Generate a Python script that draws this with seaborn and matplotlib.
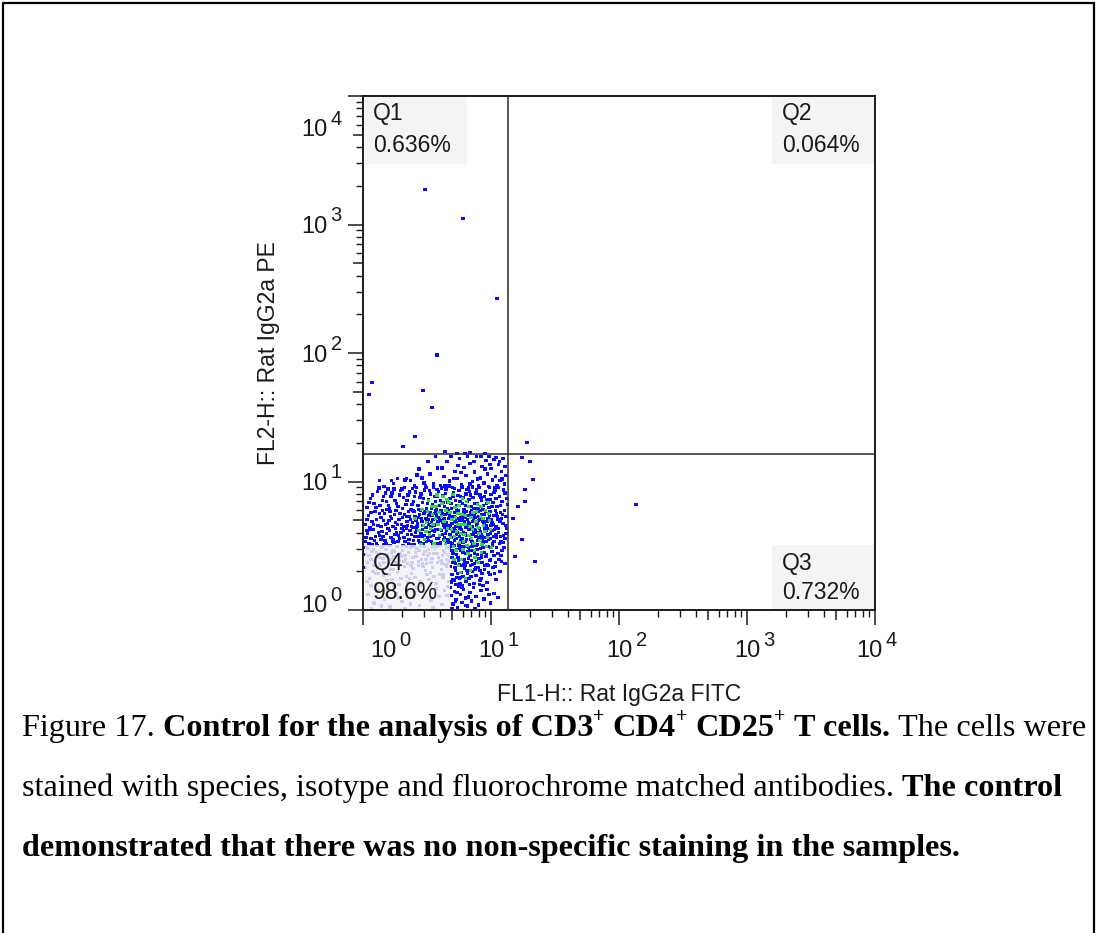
import matplotlib
matplotlib.use("Agg")
import matplotlib.pyplot as plt
import matplotlib.transforms as mtransforms
from matplotlib.lines import Line2D
from matplotlib.patches import Rectangle
from matplotlib.ticker import FixedLocator, FixedFormatter
import numpy as np
import pandas as pd
import seaborn as sns

# ---------------- data (FlowJo channel units, 256 channels per decade) ----------------
CH_PER_DECADE = 256

# low-density events (drawn blue): (FL1-H channel, FL2-H channel)
blue_events_ch = [
    # upper band of the main population
    (42,246),(61,252),(78,241),(95,258),(103,247),(118,263),(126,244),(134,271),(141,252),(149,283),
    (155,248),(162,266),(168,295),(173,257),(179,244),(184,276),(188,262),(193,301),(197,249),(202,284),
    (206,268),(211,243),(214,292),(219,256),(223,275),(227,305),(231,247),(235,263),(238,286),(242,253),
    (246,297),(249,271),(253,244),(256,282),(259,259),(262,300),(265,266),(268,248),(271,289),(274,258),
    (277,276),(280,302),(283,251),(286,268),(112,281),(87,262),(57,258),(69,262),(130,296),(145,306),
    (158,283),(176,306),(190,287),(209,306),(222,296),(236,305),(244,281),(252,305),(266,303),(273,296),
    (148,240),(122,253),(99,242),(84,259),(50,241),(33,258),(108,269),(164,247),(181,262),(196,274),
    (214,251),(229,261),(254,290),(263,243),(278,261),(284,285),
    # middle band
    (8,205),(15,222),(22,213),(29,236),(34,208),(41,227),(47,216),(53,203),(58,233),(64,219),
    (70,207),(75,238),(81,224),(86,211),(90,229),(96,201),(101,217),(105,235),(110,208),(114,225),
    (119,214),(123,239),(127,202),(131,221),(135,231),(139,210),(143,226),(147,204),(151,236),(155,218),
    (159,228),(163,207),(166,240),(170,215),(174,223),(177,203),(181,233),(185,219),(188,209),(192,238),
    (195,226),(199,212),(202,201),(206,231),(209,217),(213,236),(216,206),(220,224),(223,213),(227,240),
    (230,202),(234,229),(237,218),(241,209),(245,235),(248,221),(252,204),(256,230),(260,214),(264,238),
    (268,207),(273,226),(278,216),(284,233),(289,210),
    (12,214),(19,229),(26,204),(32,243),(39,219),(45,233),(51,209),(56,226),(62,241),(67,213),
    (73,229),(79,203),(83,244),(88,219),(93,235),(98,210),(103,226),(107,244),(112,200),(116,231),
    (121,222),(125,248),(129,212),(133,238),(137,203),(141,245),(145,217),(149,227),(153,208),(157,243),
    (161,214),(165,232),(169,202),(172,247),(176,212),(180,226),(183,242),(187,201),(190,228),(194,216),
    (198,245),(201,224),(205,209),(208,240),(212,220),(215,229),(219,245),(222,203),(226,233),(229,212),
    (233,244),(236,224),(240,201),(243,227),(247,213),(251,246),(254,221),(258,207),(262,234),(266,222),
    (270,244),(275,209),(281,239),(287,222),
    (5,171),(11,189),(18,177),(24,196),(30,168),(36,184),(43,193),(49,173),(55,187),(60,166),
    (66,198),(72,180),(77,170),(83,191),(88,176),(93,186),(97,167),(102,196),(106,179),(109,172),
    (113,190),(117,183),(120,169),(124,197),(128,176),(132,188),(136,166),(140,181),(144,193),(148,171),
    (152,185),(156,199),(160,175),(164,190),(167,168),(171,182),(175,195),(178,173),(182,187),(186,166),
    (190,198),(193,179),(197,191),(200,170),(204,184),(207,196),(211,175),(214,188),(218,167),(221,181),
    (225,194),(228,172),(232,186),(235,199),(239,177),(243,190),(246,169),(250,183),(254,196),(258,174),
    (262,188),(266,167),(270,180),(275,194),(280,172),(286,186),(14,165),(27,181),(39,199),(52,178),
    (63,190),(79,184),(91,197),(99,174),(115,199),(126,165),(138,189),(150,177),(161,168),(173,188),
    (184,177),(195,165),(209,180),(222,189),(231,178),(244,177),(256,168),(267,193),(277,182),(283,199),
    (45,170),(69,171),(85,166),(104,187),(130,181),(146,198),(169,193),(188,183),(203,176),(216,194),
    (8,181),(21,170),(33,192),(41,178),(47,200),(57,182),(65,174),(74,193),(81,167),(87,187),
    (95,180),(100,198),(108,166),(111,185),(118,176),(122,192),(126,183),(134,195),(137,174),(142,168),
    (147,189),(154,178),(158,192),(162,183),(166,174),(170,199),(174,168),(177,186),(183,194),(187,175),
    (191,169),(196,185),(199,178),(202,194),(206,168),(210,188),(213,172),(217,199),(220,176),(224,185),
    (227,168),(231,196),(234,180),(238,190),(242,171),(245,196),(249,176),(253,188),(257,181),(261,170),
    (265,199),(269,187),(274,176),(279,190),(285,168),(16,194),(36,167),(54,196),(89,169),(131,170),
    (4,137),(9,152),(16,143),(21,161),(27,133),(33,148),(38,157),(44,139),(50,163),(56,145),
    (62,134),(67,155),(73,142),(78,162),(84,136),(89,150),(94,158),(98,131),(103,146),(107,160),
    (111,139),(116,153),(120,133),(125,164),(129,144),(133,155),(137,137),(141,149),(145,161),(149,132),
    (153,147),(157,158),(161,140),(165,152),(168,134),(172,163),(176,145),(180,156),(183,138),(187,150),
    (191,131),(194,162),(198,143),(201,154),(205,136),(208,149),(212,160),(215,141),(219,133),(222,157),
    (226,146),(229,138),(233,163),(236,151),(240,134),(244,145),(247,159),(251,140),(255,152),(259,132),
    (263,161),(267,144),(271,155),(276,137),(281,149),(287,163),(12,132),(25,147),(36,140),(47,153),
    (59,137),(71,148),(81,159),(92,140),(100,164),(118,147),(127,136),(139,158),(151,143),(163,164),
    (174,135),(185,158),(196,139),(206,164),(217,150),(228,155),(238,141),(249,163),(261,147),(273,133),
    (284,142),(8,158),(19,130),(42,131),(65,163),
    (6,145),(14,160),(23,138),(31,155),(40,146),(46,133),(53,158),(60,141),(64,150),(70,136),
    (76,154),(82,145),(87,163),(91,133),(97,151),(101,139),(105,155),(110,147),(114,134),(119,160),
    (123,149),(127,157),(131,138),(135,146),(139,131),(143,156),(147,142),(151,160),(155,135),(159,150),
    (163,145),(167,158),(170,140),(174,151),(178,133),(182,163),(186,142),(189,155),(193,147),(197,160),
    (200,134),(204,152),(207,141),(211,148),(214,164),(218,137),(221,150),(225,160),(228,131),(232,144),
    (235,156),(239,147),(243,162),(246,136),(250,150),(254,143),(258,158),(262,137),(266,151),(270,162),
    (275,146),(280,134),(286,153),
    # low-FL2 tail right of the Q4 label
    (176,127),(180,112),(183,97),(187,121),(190,105),(193,91),(196,118),(199,126),(202,101),(205,113),
    (208,94),(211,124),(214,108),(217,99),(220,119),(223,92),(226,129),(229,110),(232,103),(235,122),
    (238,95),(242,115),(246,106),(250,127),(254,98),(258,117),(262,109),(267,124),(272,101),(278,119),
    (284,93),(178,104),(185,92),(192,129),(201,90),(209,116),(218,127),(227,96),(237,111),(248,91),
    (256,125),(265,94),(276,108),(181,119),(196,100),
    (177,118),(179,95),(182,128),(184,84),(187,110),(189,72),(191,99),(194,122),(197,88),(200,115),
    (203,96),(206,126),(208,79),(211,102),(214,118),(216,67),(219,91),(223,112),(225,84),(228,121),
    (231,95),(234,78),(237,104),(240,124),(244,89),(247,110),(251,75),(255,101),(259,128),(264,86),
    (270,113),(277,97),(282,125),(180,60),(198,44),(215,34),(233,50),(185,17),(206,9),(193,62),
    (175,86),(178,71),(182,58),(185,79),(188,64),(191,88),(194,53),(197,75),(200,66),(203,83),
    (206,57),(209,72),(212,62),(215,88),(219,77),(222,52),(226,68),(230,84),(234,59),(238,73),
    (243,81),(248,55),(254,70),(260,85),(266,61),(274,76),(177,55),(186,50),(195,65),(204,89),
    (213,51),(224,80),(236,63),(250,88),(263,72),
    (175,44),(177,28),(180,12),(183,37),(186,21),(189,5),(192,46),(195,30),(198,15),(201,40),
    (205,24),(209,8),(213,35),(217,18),(221,45),(226,27),(231,10),(236,38),(242,22),(248,41),
    (255,14),(262,33),(270,25),(178,3),(188,34),(199,49),(211,26),(224,3),(240,48),(252,30),
    # events under the Q4 label
    (6,125),(12,108),(18,117),(24,96),(29,128),(35,112),(40,102),(46,121),(51,93),(57,115),
    (62,106),(68,127),(73,99),(79,118),(84,109),(89,92),(95,124),(100,104),(105,115),(111,97),
    (116,129),(121,110),(126,101),(131,120),(136,94),(141,113),(146,126),(151,105),(156,98),(161,119),
    (166,91),(170,111),(173,123),(9,95),(21,121),(33,92),(44,107),(55,128),(65,94),(76,106),
    (87,126),(98,95),(108,122),(119,93),(129,109),(139,125),(149,94),(159,108),(168,100),(15,131),
    (38,126),(60,119),(82,96),(103,130),(124,117),
    (4,110),(10,122),(16,101),(22,88),(27,115),(32,104),(37,124),(42,95),(48,111),(53,129),
    (58,100),(63,117),(69,90),(74,112),(80,128),(85,101),(91,115),(96,88),(101,127),(106,106),
    (112,118),(117,100),(122,126),(127,92),(133,112),(138,103),(143,121),(148,112),(154,129),(158,92),
    (163,114),(167,124),(171,97),(25,72),(61,80),(93,63),(135,75),(160,70),
    (5,84),(13,63),(20,77),(27,51),(34,88),(41,69),(48,58),(55,81),(62,47),(69,74),
    (76,62),(83,86),(90,54),(97,72),(104,65),(111,89),(118,49),(125,78),(132,60),(139,85),
    (146,53),(153,71),(160,64),(167,87),(172,56),(16,48),(30,72),(45,85),(58,61),(72,50),
    (87,67),(100,83),(114,57),(128,70),(142,66),(157,80),(169,46),(8,57),(52,70),(120,86),
    (10,30),(22,14),(31,38),(43,22),(54,6),(66,33),(78,17),(89,41),(101,26),(113,9),
    (124,36),(136,20),(147,42),(158,11),(168,29),(17,3),(49,40),(84,2),(108,44),(140,4),
    (163,39),(37,8),(71,25),(95,12),(152,27),
    # rare events outside the main population
    (124,838),(200,780),(268,620),(148,508),(120,438),(138,404),(18,454),(12,430),(80,326),(104,346),
    (328,334),(318,304),(334,296),(340,260),(324,240),(324,216),(310,206),(300,182),(318,140),(304,106),
    (344,96),(546,210),(164,316),(188,312),(204,312),(214,314),(244,312),
]

# high-density events (drawn green)
green_events_ch = [
    (104,182),(112,158),(118,201),(123,141),(127,175),(131,219),(135,162),(139,190),(142,133),(146,207),
    (150,171),(153,149),(157,186),(160,226),(163,138),(166,198),(169,163),(172,214),(175,145),(178,180),
    (181,127),(184,205),(187,156),(190,192),(193,135),(196,171),(199,222),(202,150),(205,188),(208,128),
    (211,206),(214,166),(217,142),(220,194),(223,118),(226,177),(229,211),(232,153),(235,186),(238,131),
    (241,168),(245,199),(249,145),(253,178),(257,124),(116,130),(129,196),(144,121),(158,213),(171,108),
    (186,118),(197,101),(210,113),(224,104),(237,115),(148,229),(180,230),(250,215),(191,89),(215,79),
    (121,168),(133,151),(138,206),(145,182),(152,194),(155,160),(162,176),(165,131),(168,221),(174,195),
    (177,161),(183,146),(185,184),(189,170),(192,209),(195,152),(198,190),(201,137),(204,171),(207,216),
    (212,149),(216,184),(219,160),(222,132),(227,196),(230,165),(234,138),(236,207),(240,182),(244,157),
    (247,126),(251,192),(255,160),(200,120),(182,100),(230,95),(205,62),(195,74),(140,170),(126,157),
]

gate_fl1_ch = 290
gate_fl2_ch = 310
quadrant_names = ["Q1", "Q2", "Q3", "Q4"]
quadrant_pcts = ["0.636%", "0.064%", "0.732%", "98.6%"]
decades = [0, 1, 2, 3, 4]
x_label = "FL1-H:: Rat IgG2a FITC"
y_label = "FL2-H:: Rat IgG2a PE"

# caption runs: (text, weight, superscript, space_before)
caption_lines = [
    [("Figure 17.", "normal", False, False),
     ("Control for the analysis of CD3", "bold", False, True),
     ("+", "bold", True, False),
     ("CD4", "bold", False, True),
     ("+", "bold", True, False),
     ("CD25", "bold", False, True),
     ("+", "bold", True, False),
     ("T cells.", "bold", False, True),
     ("The cells were", "normal", False, True)],
    [("stained with species, isotype and fluorochrome matched antibodies.", "normal", False, False),
     ("The control", "bold", False, True)],
    [("demonstrated that there was no non-specific staining in the samples.", "bold", False, False)],
]

# ---------------- figure ----------------
sns.set_style("white")
plt.rcParams["font.family"] = ["Liberation Sans", "DejaVu Sans"]
SERIF = ["Liberation Serif", "DejaVu Serif"]
INK = "#1a1a1a"

W, H = 1096, 933
DPI = 100
fig = plt.figure(figsize=(W / DPI, H / DPI), dpi=DPI)
fig.patch.set_facecolor("white")
ax = fig.add_axes([363 / W, 1 - 610 / H, 512 / W, 514 / H])


def ch2val(ch):
    return 10 ** (np.asarray(ch, dtype=float) / CH_PER_DECADE)


blue = np.array(blue_events_ch)
green = np.array(green_events_ch)
df = pd.DataFrame({
    "FL1-H": np.concatenate([ch2val(blue[:, 0]), ch2val(green[:, 0])]),
    "FL2-H": np.concatenate([ch2val(blue[:, 1]), ch2val(green[:, 1])]),
    "density": ["low"] * len(blue) + ["high"] * len(green),
})

ax.set_xscale("log")
ax.set_yscale("log")
sns.scatterplot(data=df, x="FL1-H", y="FL2-H", hue="density",
                palette={"low": "#0a0aff", "high": "#2ee02e"},
                marker="s", s=5, linewidth=0, edgecolor="none",
                legend=False, ax=ax, zorder=2)
ax.set_xlim(ch2val(0), ch2val(4 * CH_PER_DECADE))
ax.set_ylim(ch2val(0), ch2val(4 * CH_PER_DECADE))

# quadrant gate
ax.axvline(ch2val(gate_fl1_ch), color="#2a2a2a", lw=1.1, zorder=3)
ax.axhline(ch2val(gate_fl2_ch), color="#2a2a2a", lw=1.1, zorder=3)

# quadrant label boxes (axes fraction) and texts
boxes = [(0.004, 0.868, 0.203, 0.998), (0.799, 0.868, 0.998, 0.998),
         (0.799, 0.002, 0.998, 0.126), (0.004, 0.002, 0.170, 0.126)]
text_xy = [(0.0195, 0.965, 0.903), (0.818, 0.965, 0.903),
           (0.818, 0.0914, 0.035), (0.0195, 0.0914, 0.035)]
for (x0, y0, x1, y1), (tx, ty1, ty2), name, pct in zip(boxes, text_xy, quadrant_names, quadrant_pcts):
    ax.add_patch(Rectangle((x0, y0), x1 - x0, y1 - y0, transform=ax.transAxes,
                           facecolor="#f3f3f3", alpha=0.84, edgecolor="none", zorder=4))
    ax.text(tx, ty1, name, transform=ax.transAxes, ha="left", va="center",
            fontsize=16.5, color=INK, zorder=5)
    ax.text(tx, ty2, pct, transform=ax.transAxes, ha="left", va="center",
            fontsize=16.5, color=INK, zorder=5)

# ticks
major_locs, major_labels, is_decade = [], [], []
for d in decades:
    major_locs.append(10.0 ** d); major_labels.append("10"); is_decade.append(True)
    if d < decades[-1]:
        major_locs.append(5 * 10.0 ** d); major_labels.append(""); is_decade.append(False)
minor_locs = [m * 10.0 ** d for d in decades[:-1] for m in (2, 3, 4, 6, 7, 8, 9)]

for axis in (ax.xaxis, ax.yaxis):
    axis.set_major_locator(FixedLocator(major_locs))
    axis.set_major_formatter(FixedFormatter(major_labels))
    axis.set_minor_locator(FixedLocator(minor_locs))

ax.tick_params(which="major", direction="out", length=10.8, width=1.1, color=INK,
               labelsize=17, labelcolor=INK, bottom=True, left=True)
ax.tick_params(which="minor", direction="out", length=5, width=1.0, color=INK,
               bottom=True, left=True)
ax.tick_params(axis="x", which="major", pad=11)
ax.tick_params(axis="y", which="major", pad=15)

for axis in (ax.xaxis, ax.yaxis):
    for tick, dec in zip(axis.get_major_ticks(), is_decade):
        if not dec:
            tick.tick1line.set_markersize(7.5)

for s in ax.spines.values():
    s.set_color(INK)
    s.set_linewidth(1.4)


def shift(txt, dx_px, dy_px):
    txt.set_transform(txt.get_transform() +
                      mtransforms.ScaledTranslation(dx_px / DPI, dy_px / DPI, fig.dpi_scale_trans))


xlabels = [t for t, dec in zip(ax.get_xticklabels(), is_decade) if dec]
ylabels = [t for t, dec in zip(ax.get_yticklabels(), is_decade) if dec]
shift(xlabels[0], 20, 0)
shift(xlabels[-1], -6, 0)
shift(ylabels[0], 0, 6)
shift(ylabels[-1], 0, -32)

for labs in (xlabels, ylabels):
    for t, d in zip(labs, decades):
        ax.annotate(str(d), xy=(1.0, 0.76), xycoords=t, xytext=(2.5, 0),
                    textcoords="offset points", ha="left", va="baseline",
                    fontsize=14.5, color=INK, annotation_clip=False)

ax.set_xlabel(x_label, fontsize=16.5, color=INK)
ax.set_ylabel(y_label, fontsize=16.5, color=INK)
ax.xaxis.label.set_va("center")
ax.yaxis.label.set_va("center")
ax.xaxis.set_label_coords(0.5, (610 - 694) / 514)
ax.yaxis.set_label_coords((268 - 363) / 512, 0.5)

# ---------------- caption ----------------
renderer = fig.canvas.get_renderer()


def text_width(s, weight, size):
    t = fig.text(0, 0, s, fontsize=size, fontweight=weight, family=SERIF)
    w = t.get_window_extent(renderer).width
    t.remove()
    return w


def layout_line(runs, size, x0_px=None, base_px=None):
    space = text_width("x x", "normal", size) - text_width("xx", "normal", size)
    x = 0.0 if x0_px is None else x0_px
    for text, weight, sup, sp in runs:
        if sp:
            x += space
        fs = size * 0.62 if sup else size
        if x0_px is not None:
            dy = size * 0.42 * DPI / 72 if sup else 0.0
            t = fig.text(x / W, 1 - (base_px - dy) / H, text, fontsize=fs, fontweight=weight,
                         family=SERIF, ha="left", va="baseline", color="black")
            x += t.get_window_extent(renderer).width
        else:
            x += text_width(text, weight, fs)
    return x


ref_size = 20.0
natural = layout_line(caption_lines[0], ref_size)
cap_size = ref_size * (1085 - 22) / natural
for runs, base in zip(caption_lines, [736, 796, 856]):
    layout_line(runs, cap_size, x0_px=22, base_px=base)

# page frame
for xs, ys in [([2.5, 2.5], [H, 2.5]), ([2.5, W - 2.5], [2.5, 2.5]), ([W - 2.5, W - 2.5], [2.5, H])]:
    fig.add_artist(Line2D([x / W for x in xs], [1 - y / H for y in ys],
                          transform=fig.transFigure, color="black", lw=1.6))

fig.savefig("out.png", dpi=DPI, facecolor="white")
